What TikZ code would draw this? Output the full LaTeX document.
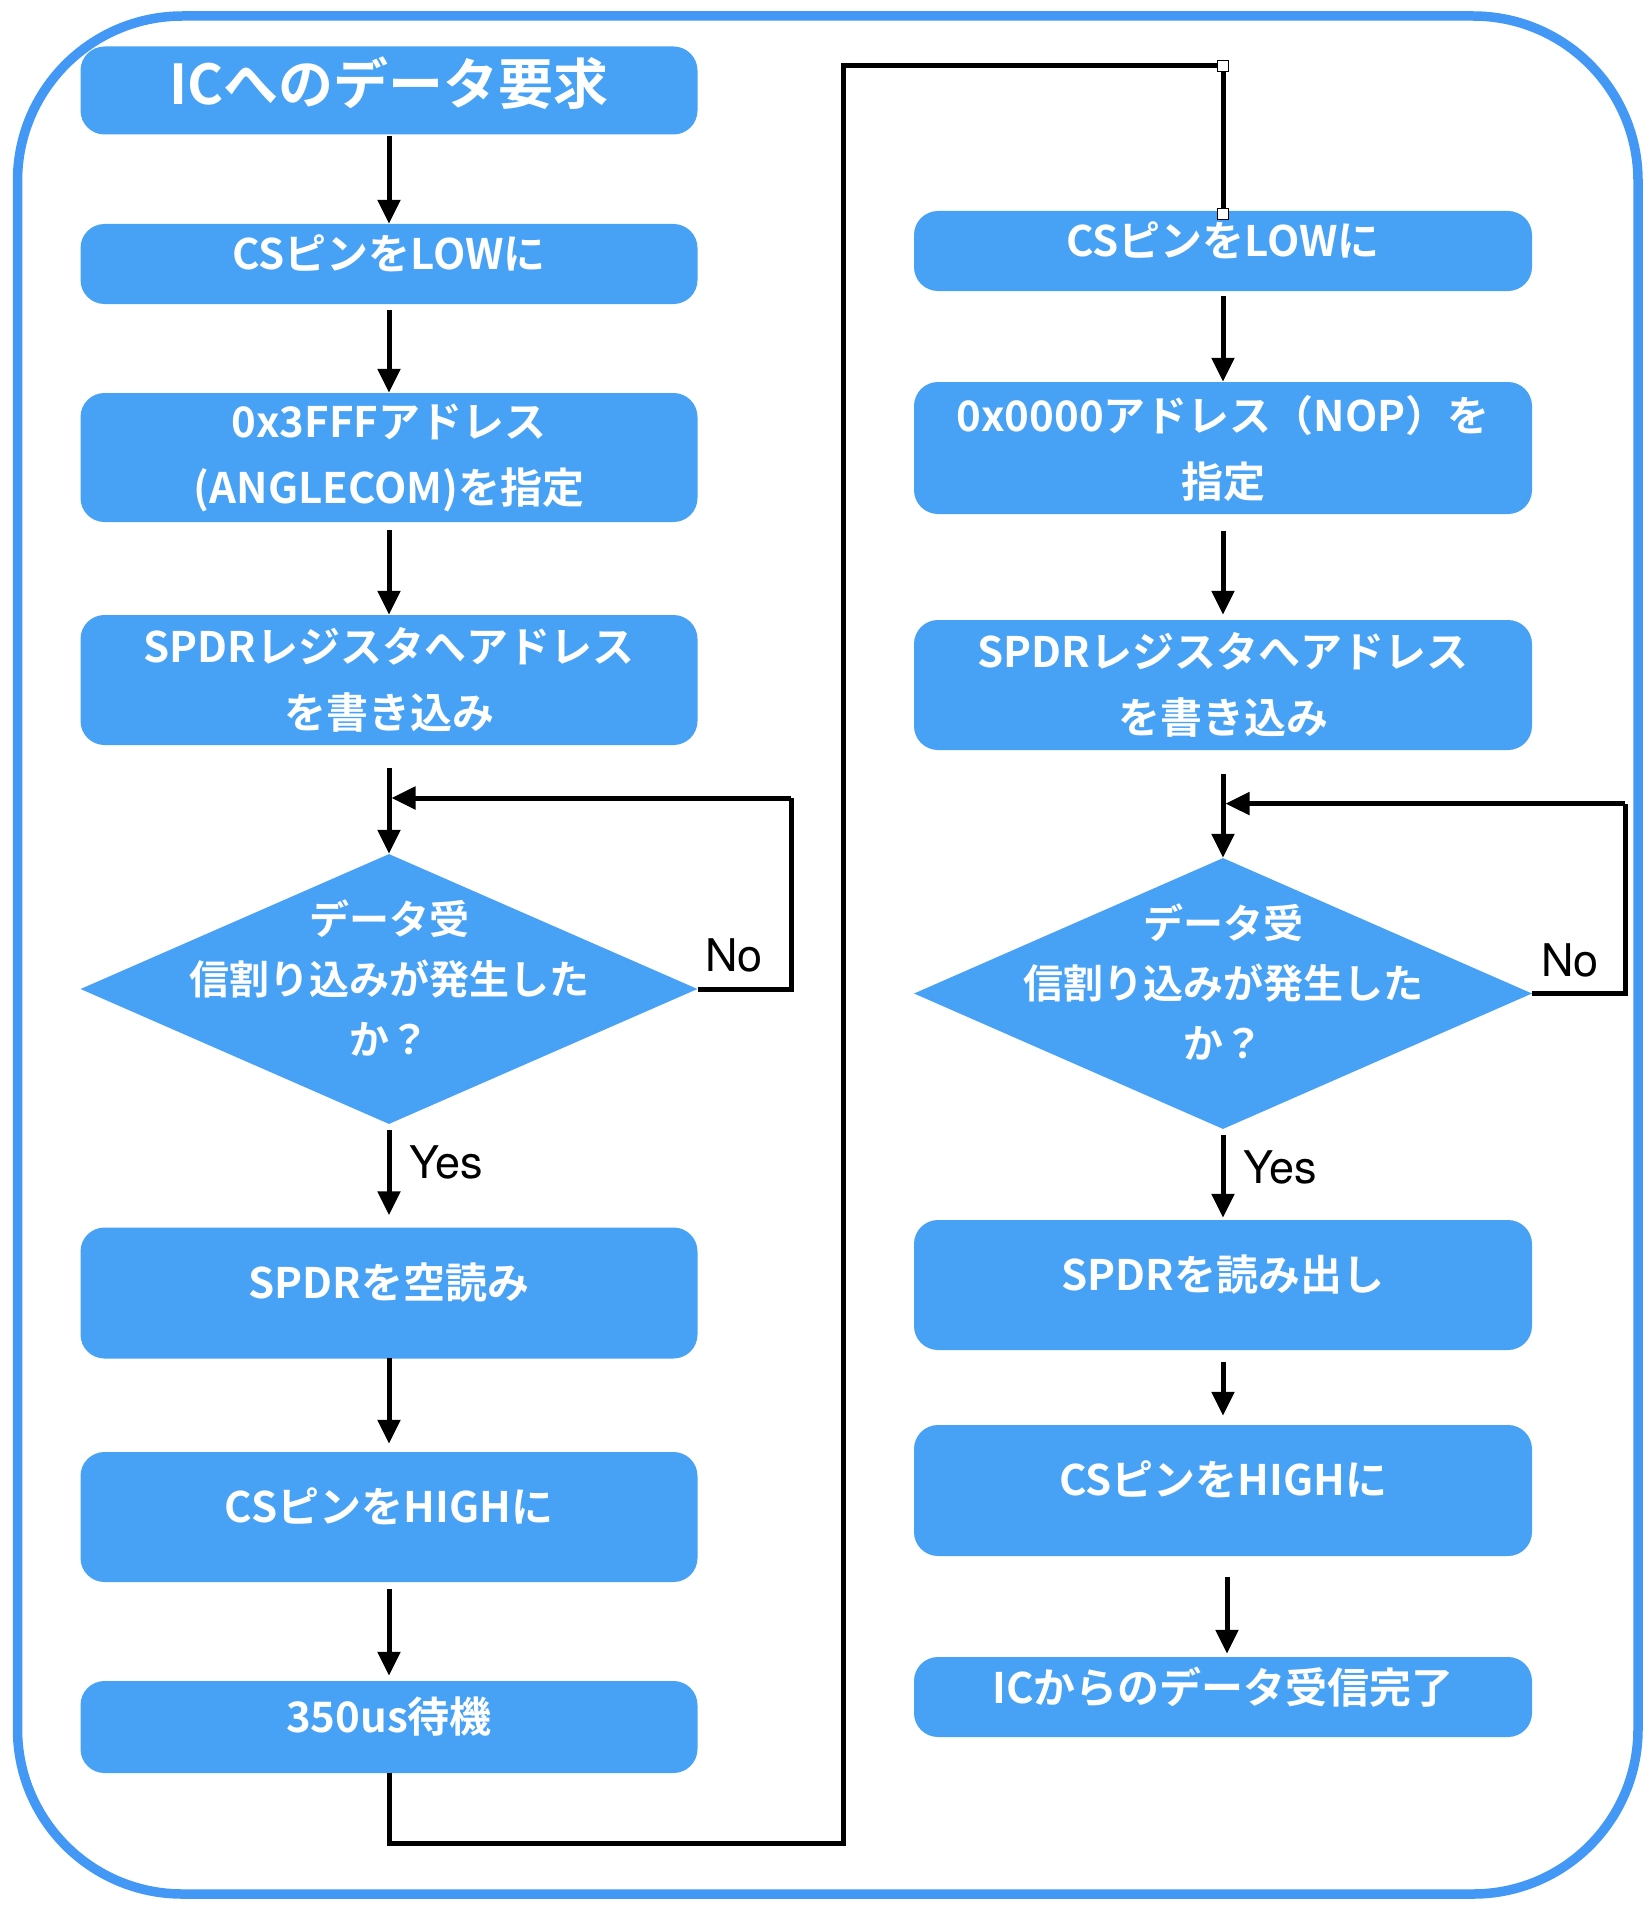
\documentclass[tikz,border=0pt]{standalone}
\usepackage{fontspec}
\newfontfamily\jp{Noto Sans CJK JP}[BoldFont={Noto Sans CJK JP Bold}]
\newfontfamily\lab{TeX Gyre Heros}
\usetikzlibrary{shapes.geometric,arrows.meta}
\definecolor{boxblue}{HTML}{47A2F6}
\definecolor{rimblue}{HTML}{4298F4}
\begin{document}
\begin{tikzpicture}[x=1pt,y=-1pt,
  box/.style={fill=boxblue, draw=none, rounded corners=24pt, minimum width=617pt, inner sep=0pt,
    text=white, align=center, font=\jp\bfseries\fontsize{42}{66}\selectfont},
  dec/.style={shape=diamond, fill=boxblue, draw=none, minimum width=617pt, inner sep=0pt},
  dectext/.style={inner sep=0pt, text=white, align=center, font=\jp\bfseries\fontsize{40}{60}\selectfont},
  up/.style={text depth=24pt},
  conn/.style={line width=5pt, draw=black},
  arr/.style={conn, -{Triangle[length=24pt,width=22pt]}},
  lbl/.style={font=\lab\fontsize{45}{50}\selectfont, text=black, inner sep=0pt},
  handle/.style={draw=black, fill=white, line width=1pt, minimum size=11pt, inner sep=0pt}
]
\useasboundingbox (0,0) rectangle (1650,1910);
\draw[rimblue, line width=9.5pt, rounded corners=165pt] (17.5,16) rectangle (1638,1894);

% left column
\node[box, minimum height=88pt, text depth=19pt, font=\jp\bfseries\fontsize{55}{60}\selectfont] (L1) at (389,90.5) {ICへのデータ要求};
\node[box, up, minimum height=80pt] (L2) at (389,264) {CSピンをLOWに};
\node[box, minimum height=129pt] (L3) at (389,457.5) {0x3FFFアドレス\\(ANGLECOM)を指定};
\node[box, minimum height=130pt] (L4) at (389,680) {SPDRレジスタへアドレス\\を書き込み};
\node[dec, minimum height=270pt] (L5) at (389,989) {};
\node[dectext] (L5t) at (389,978.5) {データ受\\信割り込みが発生した\\か？};
\node[box, up, minimum height=131pt] (L6) at (389,1293) {SPDRを空読み};
\node[box, up, minimum height=130pt] (L7) at (389,1517) {CSピンをHIGHに};
\node[box, up, minimum height=92pt] (L8) at (389,1727) {350us待機};

% right column
\node[box, up, minimum height=80pt, minimum width=618pt] (R1) at (1223,251) {CSピンをLOWに};
\node[box, minimum height=132pt, minimum width=618pt] (R2) at (1223,448) {0x0000アドレス（NOP）を\\指定};
\node[box, minimum height=130pt, minimum width=618pt] (R3) at (1223,685) {SPDRレジスタへアドレス\\を書き込み};
\node[dec, minimum height=271pt, minimum width=618pt] (R4) at (1223,993.5) {};
\node[dectext] (R4t) at (1223,982.5) {データ受\\信割り込みが発生した\\か？};
\node[box, up, minimum height=130pt, minimum width=618pt] (R5) at (1223,1285) {SPDRを読み出し};
\node[box, up, minimum height=131pt, minimum width=618pt] (R6) at (1223,1490.5) {CSピンをHIGHに};
\node[box, up, minimum height=80pt, minimum width=618pt] (R7) at (1223,1697) {ICからのデータ受信完了};

% helper points
\coordinate (Lbot) at (389,1843);
\coordinate (Mbot) at (843.5,1843);
\coordinate (Mtop) at (843.5,66);
\coordinate (Rtop) at (1223,66);
\coordinate (Lloop) at (791,798);
\coordinate (Lin) at (389,798);
\coordinate (Rloop) at (1625,803.6);
\coordinate (Rin) at (1223,803.6);

% left arrows
\draw[arr] ([yshift=-1pt]L1.south) -- (L2.north);
\draw[arr] ([yshift=-6pt]L2.south) -- (L3.north);
\draw[arr] ([yshift=-8pt]L3.south) -- (L4.north);
\draw[arr] ([yshift=-23pt]L4.south) -- (L5.north);
\draw[arr] ([yshift=-6pt]L5.south) -- ([yshift=12pt]L6.north);
\draw[arr] ([yshift=1pt]L6.south) -- ([yshift=8pt]L7.north);
\draw[arr] ([yshift=-7pt]L7.south) -- ([yshift=5pt]L8.north);
\draw[conn] (L5.east) -| (Lloop);
\draw[arr] (Lloop) -- ([xshift=2.5pt]Lin);
\node[lbl] (no1) at (734,955) {No};
\node[lbl] (yes1) at (446,1162) {Yes};

% transfer line
\draw[conn] (L8.south) -- (Lbot) -- (Mbot) -- (Mtop) -- (Rtop) -- ([yshift=-3pt]R1.north);
\node[handle] (h1) at (Rtop) {};
\node[handle] (h2) at ([yshift=-3pt]R1.north) {};

% right arrows
\draw[arr] ([yshift=-5pt]R1.south) -- (R2.north);
\draw[arr] ([yshift=-17pt]R2.south) -- ([yshift=5pt]R3.north);
\draw[arr] ([yshift=-24pt]R3.south) -- (R4.north);
\draw[arr] ([yshift=-6pt]R4.south) -- ([yshift=2pt]R5.north);
\draw[arr] ([yshift=-12pt]R5.south) -- ([yshift=9pt]R6.north);
\draw[arr] ([xshift=4pt,yshift=-21pt]R6.south) -- ([xshift=4pt,yshift=3pt]R7.north);
\draw[conn] (R4.east) -| (Rloop);
\draw[arr] (Rloop) -- ([xshift=2.5pt]Rin);
\node[lbl] (no2) at (1570,960) {No};
\node[lbl] (yes2) at (1280,1167) {Yes};
\end{tikzpicture}
\end{document}
